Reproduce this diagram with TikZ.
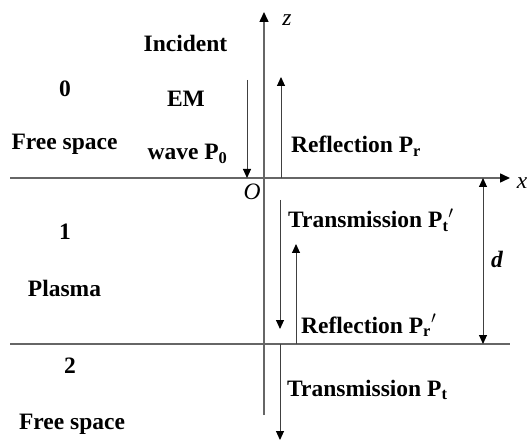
\documentclass[tikz,border=0pt]{standalone}
\usepackage{fontspec}
\setmainfont{Liberation Serif}
\usetikzlibrary{arrows.meta}
\begin{document}
\begin{tikzpicture}[x=1pt,y=-1pt,
  axis/.style={draw=black!60, line width=1.5pt},
  axistip/.style={-{Triangle[length=10pt,width=9pt,color=black]}},
  tipw/.tip={Triangle[length=9pt,width=8pt,color=black]},
  wave/.style={draw=black!75, line width=1pt, -tipw},
  lbl/.style={font=\fontsize{23.5}{26}\selectfont\bfseries, inner sep=0pt, anchor=base},
  lblw/.style={lbl, anchor=base west},
  var/.style={font=\fontsize{23.5}{26}\selectfont\itshape, inner sep=0pt}
]
\useasboundingbox (0,0) rectangle (528,441);

% interfaces and axes
\coordinate (xl) at (10,178);
\coordinate (xr) at (510,178);
\coordinate (bl) at (10,344);
\coordinate (br) at (510,344);
\coordinate (zb) at (264,415);
\coordinate (zt) at (264,12);
\draw[axis] (bl) -- (br);
\draw[axis, axistip] (xl) -- (xr);
\draw[axis, axistip] (zb) -- (zt);

% wave arrows
\coordinate (inA) at (247,80);   \coordinate (inB) at (247,178);
\coordinate (rA) at (281,178);   \coordinate (rB) at (281,77);
\coordinate (tpA) at (280,200);  \coordinate (tpB) at (280,329);
\coordinate (rpA) at (296,344);  \coordinate (rpB) at (296,244);
\coordinate (tA) at (280,344);   \coordinate (tB) at (280,440);
\coordinate (dA) at (483,178);   \coordinate (dB) at (483,344);
\draw[wave] (inA) -- (inB);
\draw[wave] (rA) -- (rB);
\draw[wave] (tpA) -- (tpB);
\draw[wave] (rpA) -- (rpB);
\draw[wave] (tA) -- (tB);
\draw[wave, tipw-tipw] (dA) -- (dB);

% axis labels
\node[var] (zlab) at (287,20) {z};
\node[var] (xlab) at (522,183) {x};
\node[var] (olab) at (252,192) {O};
\node[var, font=\fontsize{23.5}{26}\selectfont\bfseries\itshape] (dlab) at (497,259) {d};

% region labels
\node[lbl] (r0) at (65,97) {0};
\node[lbl] (fs0) at (64.5,150) {Free space};
\node[lbl] (r1) at (65,240) {1};
\node[lbl] (pl) at (64.5,296) {Plasma};
\node[lbl] (r2) at (70,373) {2};
\node[lbl] (fs2) at (72,429) {Free space};

% wave labels
\node[lbl] (inc1) at (185.5,52) {Incident};
\node[lbl] (inc2) at (186,107) {EM};
\node[lbl] (inc3) at (187.5,160) {wave P\textsubscript{0}};
\node[lblw] (refl) at (291,153) {Reflection P\textsubscript{r}};
\node[lblw] (trp) at (288,228) {Transmission P\textsubscript{t}$'$};
\node[lblw] (rflp) at (301,333) {Reflection P\textsubscript{r}$'$};
\node[lblw] (tr) at (287,396) {Transmission P\textsubscript{t}};
\end{tikzpicture}
\end{document}
